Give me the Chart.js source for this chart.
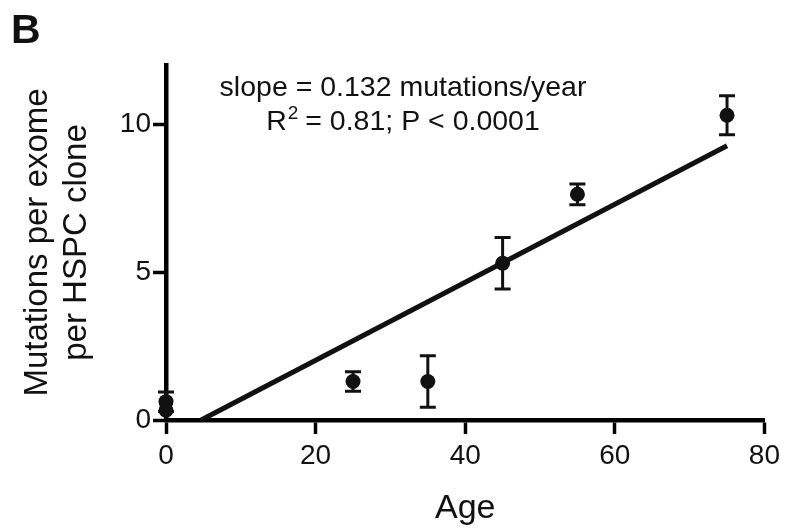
<!DOCTYPE html>
<html>
<head>
<meta charset="utf-8">
<script src="https://cdn.jsdelivr.net/npm/chart.js@4.4.1/dist/chart.umd.min.js"></script>
<style>
  html, body { margin: 0; padding: 0; background: #fff; }
  #wrap { width: 785px; height: 529px; position: relative; }
</style>
</head>
<body>
<div id="wrap"><canvas id="chart"></canvas></div>
<script>
// data
const ages = [0, 0, 25, 35, 45, 55, 75];
const mutations = [0.62, 0.33, 1.3, 1.3, 5.3, 7.63, 10.3];
const errors = [0.33, 0, 0.33, 0.87, 0.87, 0.35, 0.66];
const fitAges = [4.7, 75];
const fitValues = [0, 9.27];
const xTicks = [0, 20, 40, 60, 80];
const yTicks = [0, 5, 10];
const slopeText = 'slope = 0.132 mutations/year';
const statParts = ['R', '2', ' = 0.81; P < 0.0001'];

const FONT = "'Liberation Sans', Arial, Helvetica, sans-serif";
const INK = '#111';

// vertical error bars with caps, drawn under the points
const errorBars = {
    id: 'errorBars',
    beforeDatasetDraw(chart, args) {
        if (args.index !== 1) return;
        const { ctx, scales: { x, y } } = chart;
        ctx.save();
        ctx.strokeStyle = INK;
        ctx.lineWidth = 3;
        ages.forEach((a, i) => {
            if (!errors[i]) return;
            const px = x.getPixelForValue(a);
            const top = y.getPixelForValue(mutations[i] + errors[i]);
            const bot = y.getPixelForValue(mutations[i] - errors[i]);
            ctx.beginPath();
            ctx.moveTo(px, top); ctx.lineTo(px, bot);
            ctx.moveTo(px - 8, top); ctx.lineTo(px + 8, top);
            ctx.moveTo(px - 8, bot); ctx.lineTo(px + 8, bot);
            ctx.stroke();
        });
        ctx.restore();
    }
};

// panel letter and regression stats
const labels = {
    id: 'labels',
    afterDraw(chart) {
        const ctx = chart.ctx;
        ctx.save();
        ctx.fillStyle = INK;
        ctx.textBaseline = 'alphabetic';

        ctx.font = 'bold 41px ' + FONT;
        ctx.textAlign = 'left';
        ctx.fillText('B', 11, 43);

        const cx = 403;
        ctx.font = '28.5px ' + FONT;
        ctx.textAlign = 'center';
        ctx.fillText(slopeText, cx, 96);

        // second line with a superscript
        ctx.textAlign = 'left';
        const big = '28.5px ' + FONT, small = '19px ' + FONT;
        ctx.font = big; const w0 = ctx.measureText(statParts[0]).width;
        ctx.font = small; const w1 = ctx.measureText(statParts[1]).width;
        ctx.font = big; const w2 = ctx.measureText(statParts[2]).width;
        let sx = cx - (w0 + w1 + w2) / 2;
        ctx.font = big; ctx.fillText(statParts[0], sx, 130); sx += w0 + 1;
        ctx.font = small; ctx.fillText(statParts[1], sx, 119); sx += w1 - 1;
        ctx.font = big; ctx.fillText(statParts[2], sx, 130);
        ctx.restore();
    }
};

new Chart(document.getElementById('chart'), {
    type: 'scatter',
    data: {
        datasets: [
            {
                type: 'line',
                data: fitAges.map((a, i) => ({ x: a, y: fitValues[i] })),
                borderColor: INK,
                borderWidth: 5,
                pointRadius: 0,
                fill: false,
                clip: false
            },
            {
                data: ages.map((a, i) => ({ x: a, y: mutations[i] })),
                backgroundColor: INK,
                borderColor: INK,
                pointRadius: 7.5,
                borderWidth: 0,
                clip: false
            }
        ]
    },
    options: {
        responsive: true,
        maintainAspectRatio: false,
        animation: false,
        layout: { padding: { left: 0, top: 65, right: 19, bottom: 0 } },
        plugins: {
            legend: { display: false },
            tooltip: { enabled: false }
        },
        scales: {
            x: {
                type: 'linear',
                min: 0,
                max: 80,
                afterBuildTicks: s => { s.ticks = xTicks.map(v => ({ value: v })); },
                afterFit: s => { s.height = 109; },
                border: { display: true, color: '#000', width: 4.5 },
                grid: { drawOnChartArea: false, drawTicks: true, tickLength: 14, tickWidth: 3.5, tickColor: '#000' },
                ticks: { color: INK, padding: 5, maxRotation: 0, font: { family: FONT, size: 28 } },
                title: {
                    display: true,
                    text: 'Age',
                    color: INK,
                    font: { family: FONT, size: 34, lineHeight: 1.2 },
                    padding: { top: 0, bottom: 0 }
                }
            },
            y: {
                min: 0,
                max: 12,
                afterBuildTicks: s => { s.ticks = yTicks.map(v => ({ value: v })); },
                afterFit: s => { s.width = 166; },
                border: { display: true, color: '#000', width: 4.5 },
                grid: { drawOnChartArea: false, drawTicks: true, tickLength: 13, tickWidth: 3.5, tickColor: '#000' },
                ticks: { color: INK, padding: 2, font: { family: FONT, size: 28 } },
                title: {
                    display: true,
                    text: ['Mutations per exome', 'per HSPC clone'],
                    color: INK,
                    font: { family: FONT, size: 33, lineHeight: 1.2 },
                    padding: { top: 18, bottom: 0 }
                }
            }
        }
    },
    plugins: [errorBars, labels]
});
</script>
</body>
</html>
